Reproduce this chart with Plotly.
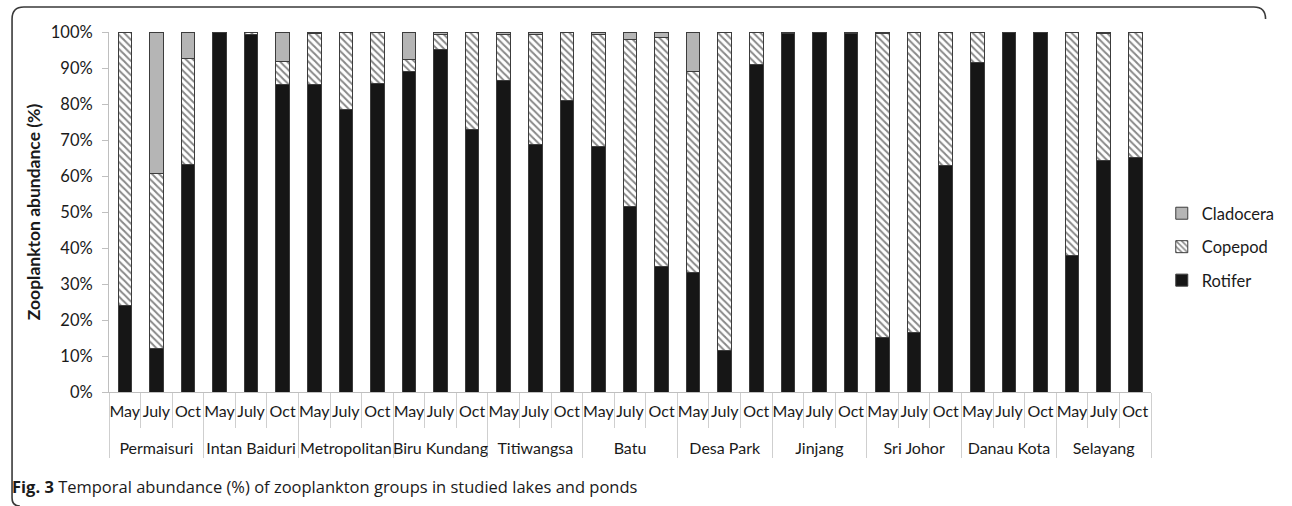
import plotly.graph_objects as go

# Sampling sites and months
lakes = ["Permaisuri", "Intan Baiduri", "Metropolitan", "Biru Kundang", "Titiwangsa",
         "Batu", "Desa Park", "Jinjang", "Sri Johor", "Danau Kota", "Selayang"]
months = ["May", "July", "Oct"]

# Relative abundance (%) per lake and month, in lake order (May, July, Oct)
rotifer = [24.1, 12.2, 63.2,
           99.8, 99.3, 85.5,
           85.3, 78.5, 85.7,
           88.9, 95.1, 72.9,
           86.4, 68.8, 81.0,
           68.2, 51.4, 34.9,
           33.2, 11.6, 91.0,
           99.7, 100.0, 99.5,
           15.1, 16.5, 63.0,
           91.5, 100.0, 100.0,
           38.0, 64.2, 65.1]
copepod = [75.9, 48.6, 29.4,
           0.2, 0.5, 6.2,
           14.2, 21.5, 14.3,
           3.5, 4.2, 27.1,
           12.8, 30.5, 19.0,
           31.0, 46.5, 63.5,
           55.7, 88.4, 9.0,
           0.3, 0.0, 0.5,
           84.4, 83.5, 37.0,
           8.5, 0.0, 0.0,
           62.0, 35.5, 34.9]
cladocera = [0.0, 39.2, 7.4,
             0.0, 0.2, 8.3,
             0.5, 0.0, 0.0,
             7.6, 0.7, 0.0,
             0.8, 0.7, 0.0,
             0.8, 2.1, 1.6,
             11.1, 0.0, 0.0,
             0.0, 0.0, 0.0,
             0.5, 0.0, 0.0,
             0.0, 0.0, 0.0,
             0.0, 0.3, 0.0]

# Outer category labels sit one blank line lower than the month row
x_lake = ["<br>" + lk for lk in lakes for _ in months]
x_month = [m for _ in lakes for m in months]
xcat = [x_lake, x_month]

FONT = "Lato, 'Open Sans', sans-serif"
CAP_FONT = "'Open Sans', Lato, sans-serif"
outline = dict(color="#3c3c3c", width=1)

fig = go.Figure()
fig.add_trace(go.Bar(
    name="Rotifer", x=xcat, y=[v / 100 for v in rotifer],
    legendgroup="r", legendrank=3,
    marker=dict(color="#161616", line=outline),
))
fig.add_trace(go.Bar(
    name="Copepod", x=xcat, y=[v / 100 for v in copepod],
    legendgroup="c", legendrank=2,
    marker=dict(color="white", line=outline,
                pattern=dict(shape="\\", fgcolor="#111111", bgcolor="white",
                             size=5, solidity=0.4)),
))
fig.add_trace(go.Bar(
    name="Cladocera", x=xcat, y=[v / 100 for v in cladocera],
    legendgroup="d", legendrank=1,
    marker=dict(color="#b5b5b5", line=outline),
))

# Rounded frame around the figure and its caption
W, H = 1292, 506
ml, mr, mt, mb = 109, W - 1173, 32, H - 392
pw, ph = W - ml - mr, H - mt - mb


def px(x):
    return (x - ml) / pw


def py(y):
    return (H - mb - y) / ph


r = 12
frame = (f"M {px(10)},{py(H - 8)} L {px(10)},{py(7 + r)} "
         f"Q {px(10)},{py(7)} {px(10 + r)},{py(7)} "
         f"L {px(1290 - r)},{py(7)} Q {px(1290)},{py(7)} {px(1290)},{py(7 + r)}")
bottom_curve = f"M {px(10)},{py(H - 8)} Q {px(10)},{py(H)} {px(18)},{py(H)}"

fig.update_layout(
    width=W, height=H,
    margin=dict(l=ml, r=mr, t=mt, b=mb),
    barmode="stack",
    bargap=0.57,
    plot_bgcolor="white",
    paper_bgcolor="white",
    font=dict(family=FONT, size=16, color="#1a1a1a"),
    legend=dict(
        x=px(1184), y=py(196), xanchor="left", yanchor="top",
        traceorder="grouped", font=dict(size=16.5, color="#1a1a1a"),
        itemwidth=30, tracegroupgap=9, bgcolor="rgba(0,0,0,0)",
    ),
    xaxis=dict(
        type="multicategory",
        showline=True, linecolor="#bfbfbf", linewidth=1,
        ticks="outside", tickson="boundaries", ticklen=35, tickcolor="#cfcfcf",
        showdividers=True, dividercolor="#cfcfcf", dividerwidth=1,
        tickangle=0, ticklabelstandoff=5,
        tickfont=dict(size=16, color="#1a1a1a"),
        showgrid=False,
    ),
    yaxis=dict(
        range=[0, 1], tickvals=[i / 10 for i in range(11)], tickformat=".0%",
        showline=True, linecolor="#bfbfbf", linewidth=1,
        ticks="outside", ticklen=6, tickcolor="#bfbfbf",
        ticklabelstandoff=6,
        showgrid=False, zeroline=False,
        tickfont=dict(size=16.5, color="#1a1a1a"),
        title=dict(text="<b>Zooplankton abundance (%)</b>",
                   font=dict(size=17.5, color="#1a1a1a"), standoff=5),
    ),
    shapes=[
        dict(type="path", path=frame, xref="paper", yref="paper",
             line=dict(color="#3a3a3a", width=1.6)),
        dict(type="path", path=bottom_curve, xref="paper", yref="paper",
             line=dict(color="#3a3a3a", width=1.6)),
    ],
    annotations=[
        dict(text="<b>Fig. 3</b> Temporal abundance (%) of zooplankton groups in studied lakes and ponds",
             x=px(8), y=py(486), xref="paper", yref="paper",
             xanchor="left", yanchor="middle", showarrow=False,
             font=dict(size=16.5, color="#1a1a1a", family=CAP_FONT)),
    ],
)

fig.write_html("out.html")
